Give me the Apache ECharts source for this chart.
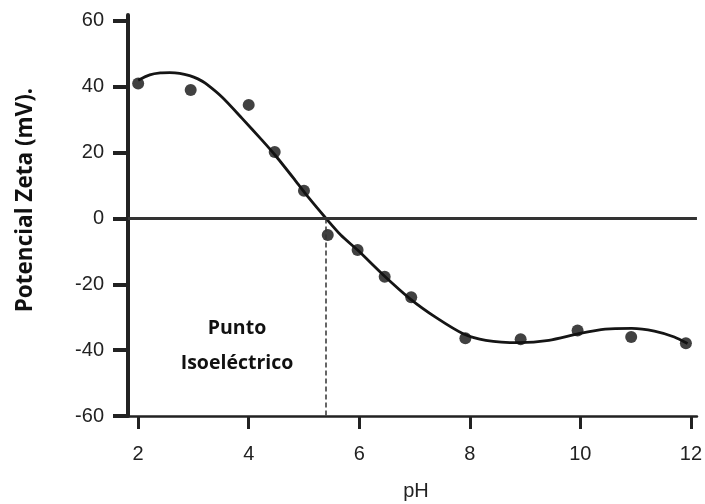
<!DOCTYPE html>
<html>
<head>
<meta charset="utf-8">
<script src="https://cdn.jsdelivr.net/npm/echarts@6.0.0/dist/echarts.min.js"></script>
<style>html,body{margin:0;padding:0;background:#fff;}#c{width:705px;height:504px;}</style>
</head>
<body>
<div id="c"></div>
<script>
// Measured points
const phPoints   = [2, 2.95, 4, 4.47, 5, 5.43, 5.97, 6.46, 6.94, 7.92, 8.92, 9.95, 10.92, 11.91];
const zetaPoints = [41, 39, 34.5, 20.2, 8.4, -5, -9.6, -17.7, -23.9, -36.4, -36.7, -34, -36, -37.9];
// Fitted curve
const curvePh   = [2.0, 2.21, 2.4, 2.57, 2.75, 2.93, 3.08, 3.22, 3.52, 3.88, 4.24, 4.48, 4.84, 5.07, 5.4, 5.67, 5.97, 6.45, 6.92, 7.4, 7.88, 8.29, 8.89, 9.43, 9.97, 10.45, 10.93, 11.34, 11.7, 11.94];
const curveZeta = [42.0, 43.6, 44.2, 44.3, 44.1, 43.4, 42.4, 41.0, 36.8, 30.4, 23.8, 19.2, 11.6, 6.6, 0, -5.1, -9.6, -17.4, -24.4, -30.2, -35.0, -37.0, -37.7, -37.0, -35.0, -33.6, -33.4, -34.2, -36.0, -38.0];
const xTicks = [2, 4, 6, 8, 10, 12];
const yTicks = [-60, -40, -20, 0, 20, 40, 60];
const isoelectricPh = 5.4;
const xTitle = 'pH';
const yTitle = 'Potencial Zeta (mV).';
const annotation = 'Punto\nIsoeléctrico';

const chart = echarts.init(document.getElementById('c'), null, {renderer: 'canvas'});
const labelFont = {color: '#222', fontFamily: 'Liberation Sans, Arial', fontSize: 20};
chart.setOption({
  animation: false,
  backgroundColor: '#fff',
  grid: {left: 128, right: 2, top: 15, bottom: 88, containLabel: false},
  xAxis: {
    type: 'value', min: 1.816, max: 12.11,
    splitLine: {show: false},
    axisLine: {show: true, onZero: false, lineStyle: {color: '#222', width: 2.5}},
    axisTick: {show: true, length: 13, lineStyle: {color: '#222', width: 3}, customValues: xTicks},
    axisLabel: Object.assign({margin: 28, customValues: xTicks}, labelFont)
  },
  yAxis: {
    type: 'value', min: -60, max: 61.8,
    splitLine: {show: false},
    axisLine: {show: true, onZero: false, lineStyle: {color: '#222', width: 4}},
    axisTick: {show: true, length: 15, lineStyle: {color: '#222', width: 4}, customValues: yTicks},
    axisLabel: Object.assign({margin: 24, customValues: yTicks}, labelFont)
  },
  series: [
    {
      type: 'line', smooth: 0.25, showSymbol: false, symbol: 'none',
      data: curvePh.map((x, i) => [x, curveZeta[i]]),
      lineStyle: {color: '#151515', width: 2.8},
      markLine: {
        silent: true, symbol: 'none', label: {show: false},
        data: [
          [{coord: [1.816, 0], lineStyle: {type: 'solid', width: 3, color: '#333'}}, {coord: [12.11, 0]}],
          [{coord: [isoelectricPh, 0], lineStyle: {type: [5, 3], width: 1.5, color: '#333'}}, {coord: [isoelectricPh, -60]}]
        ]
      },
      z: 3
    },
    {
      type: 'scatter', symbol: 'circle', symbolSize: 12,
      data: phPoints.map((x, i) => [x, zetaPoints[i]]),
      itemStyle: {color: '#111'},
      z: 4
    }
  ],
  graphic: [
    {type: 'text', x: 416, y: 491, style: {text: xTitle, fill: '#222', font: '20px "Liberation Sans", Arial', align: 'center', verticalAlign: 'middle'}},
    {type: 'text', x: 26, y: 200, rotation: Math.PI / 2, style: {text: yTitle, fill: '#111', font: 'bold 22.5px "Open Sans"', align: 'center', verticalAlign: 'middle'}},
    {type: 'text', x: 237, y: 346, style: {text: annotation, fill: '#111', font: 'bold 19.5px "Open Sans"', align: 'center', verticalAlign: 'middle', lineHeight: 35}}
  ]
});
</script>
</body>
</html>
